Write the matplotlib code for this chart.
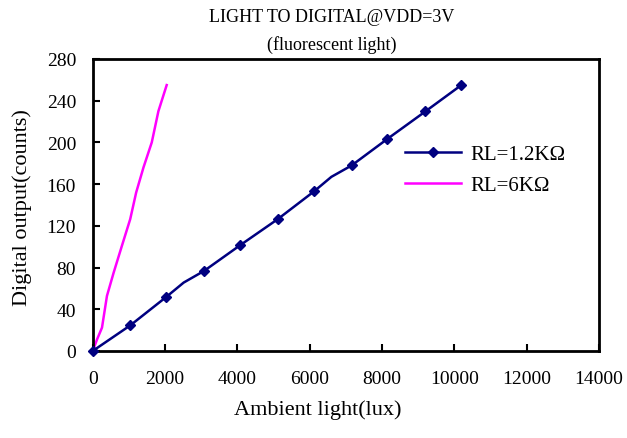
import matplotlib
matplotlib.use("Agg")
import matplotlib.pyplot as plt

plt.rcParams['font.family'] = ['Liberation Serif', 'DejaVu Serif']

# Data
x_12k = [0, 1040, 2033, 2515, 3080, 4076, 5116, 6118, 6600, 7159, 8142, 9202, 10194]
y_12k = [0, 24.6, 51.8, 65.6, 76.8, 101.4, 126.4, 153, 167, 177.9, 203.2, 229.8, 255]
marker_idx = [0, 1, 2, 4, 5, 6, 7, 9, 10, 11, 12]

x_6k = [0, 119, 257, 394, 578, 807, 1037, 1202, 1404, 1633, 1817, 2046]
y_6k = [0, 11, 22.4, 52.8, 75, 100.8, 126.4, 152, 176, 200, 230, 255]

labels = ["RL=1.2K\u03a9", "RL=6K\u03a9"]
title1 = "LIGHT TO DIGITAL@VDD=3V"
title2 = "(fluorescent light)"
xlabel = "Ambient light(lux)"
ylabel = "Digital output(counts)"
xticks = list(range(0, 14001, 2000))
yticks = list(range(0, 281, 40))

W, H = 627, 439
fig = plt.figure(figsize=(W / 100, H / 100), dpi=100)
ax = fig.add_axes([92.7 / W, 1 - 352 / H, (599 - 92.7) / W, (352 - 60) / H])

ax.plot(x_12k, y_12k, color='#000080', lw=1.8, marker='D', markersize=5,
        markevery=marker_idx, label=labels[0], clip_on=False, zorder=3)
ax.plot(x_6k, y_6k, color='#FF00FF', lw=1.8, label=labels[1], clip_on=False, zorder=2)

ax.set_xlim(0, 14000)
ax.set_ylim(0, 280)
ax.set_xticks(xticks)
ax.set_yticks(yticks)
ax.tick_params(direction='in', length=5, width=1.5, labelsize=14)
ax.tick_params(axis='y', pad=12)
ax.tick_params(axis='x', pad=14)
for s in ax.spines.values():
    s.set_linewidth(2)

fig.text(318 / W, 1 - 410 / H, xlabel, ha='center', va='center', fontsize=16)
fig.text(22 / W, 1 - 208 / H, ylabel, ha='center', va='center', fontsize=16,
         rotation=90)

fig.text(332 / W, 1 - 18 / H, title1, ha='center', va='center', fontsize=13)
fig.text(332 / W, 1 - 45 / H, title2, ha='center', va='center', fontsize=13)

leg = ax.legend(loc='center left', bbox_to_anchor=(405 / W, 1 - 171 / H),
                bbox_transform=fig.transFigure, frameon=False, fontsize=15,
                handlelength=2.7, handletextpad=0.45, labelspacing=0.55,
                borderpad=0, borderaxespad=0)

fig.savefig("out.png", dpi=100)
